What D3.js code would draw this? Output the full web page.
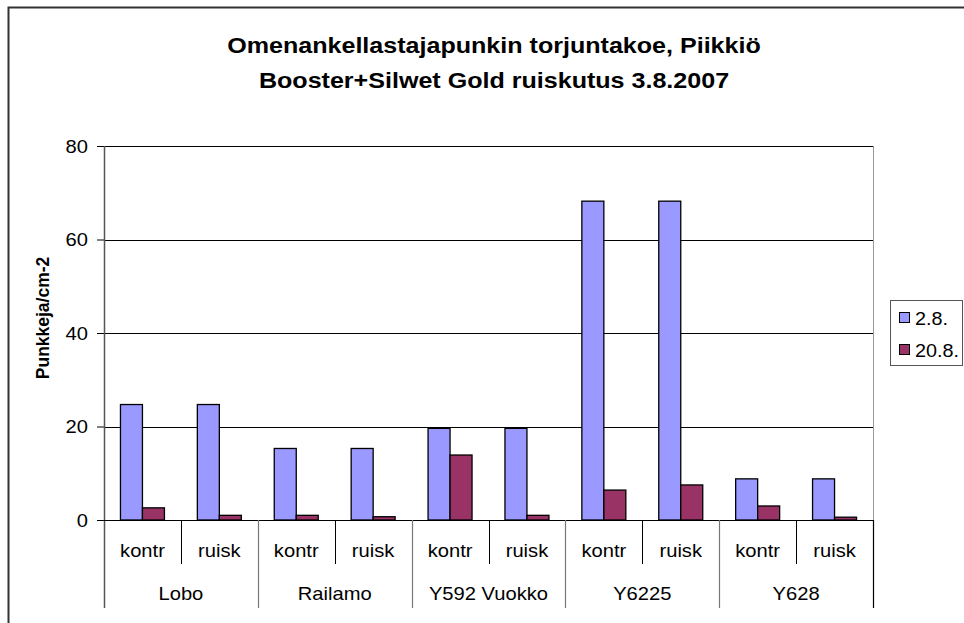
<!DOCTYPE html>
<html>
<head>
<meta charset="utf-8">
<script src="https://cdn.jsdelivr.net/npm/d3@7"></script>
<style>
  html, body { margin: 0; padding: 0; background: #fff; }
  svg text { font-family: "Liberation Sans", Arial, sans-serif; fill: #000; }
</style>
</head>
<body>
<svg id="chart" width="964" height="623"></svg>
<script>
// ---- data ----
const groups = ["Lobo", "Railamo", "Y592 Vuokko", "Y6225", "Y628"];
const treatments = ["kontr", "ruisk"];
const seriesNames = ["2.8.", "20.8."];
const values_2_8  = [24.7, 24.7, 15.3, 15.3, 19.6, 19.6, 68.2, 68.2, 8.8, 8.8];
const values_20_8 = [2.6, 1.0, 1.0, 0.7, 13.9, 1.0, 6.4, 7.5, 3.0, 0.6];
const yTicks = [0, 20, 40, 60, 80];
const titleLines = ["Omenankellastajapunkin torjuntakoe, Piikkiö", "Booster+Silwet Gold ruiskutus 3.8.2007"];
const yTitle = "Punkkeja/cm-2";
const colors = ["#9999FF", "#993366"];

// ---- build rows ----
const rows = [];
groups.forEach((g, gi) => treatments.forEach((t, ti) => {
  const i = gi * treatments.length + ti;
  rows.push({ key: g + "|" + t, group: g, treat: t, vals: [values_2_8[i], values_20_8[i]] });
}));

const svg = d3.select("#chart");
const m = { left: 104, right: 873, top: 146, bottom: 520 };

function stretchedText(parent, x, y, str, opts) {
  const sx = opts.sx || 1.12;
  return parent.append("text")
    .attr("transform", `translate(${x},${y}) scale(${sx},1)`)
    .attr("text-anchor", opts.anchor || "middle")
    .style("font-size", (opts.size || 18) + "px")
    .style("font-weight", opts.weight || "normal")
    .text(str);
}

// outer border
svg.append("rect").attr("x", 8.5).attr("y", 7.5).attr("width", 1000).attr("height", 700)
  .attr("fill", "none").attr("stroke", "#333").attr("stroke-width", 2);

// scales
const x = d3.scaleBand().domain(rows.map(d => d.key)).range([m.left, m.right])
  .paddingInner(0.428).paddingOuter(0.214);
const xs = d3.scaleBand().domain([0, 1]).range([0, x.bandwidth()]);
const y = d3.scaleLinear().domain([0, 80]).range([m.bottom, m.top]);
const step = x.step();
const x0 = m.left;

// gridlines
svg.append("g").selectAll("line").data(yTicks.filter(v => v > 0)).join("line")
  .attr("x1", m.left).attr("x2", m.right)
  .attr("y1", d => Math.round(y(d)) + 0.5).attr("y2", d => Math.round(y(d)) + 0.5)
  .attr("stroke", "#000").attr("stroke-width", 1);

// plot area right border
svg.append("line").attr("x1", m.right + 0.5).attr("x2", m.right + 0.5)
  .attr("y1", m.top).attr("y2", m.bottom).attr("stroke", "#999").attr("stroke-width", 1);

// bars
const barG = svg.append("g").selectAll("g").data(rows).join("g")
  .attr("transform", d => `translate(${x(d.key)},0)`);
barG.selectAll("rect").data(d => d.vals.map((v, i) => ({ v, i }))).join("rect")
  .attr("x", d => xs(d.i))
  .attr("y", d => y(d.v))
  .attr("width", xs.bandwidth())
  .attr("height", d => y(0) - y(d.v))
  .attr("fill", d => colors[d.i])
  .attr("stroke", "#000").attr("stroke-width", 1.3);

// y axis ticks
const yAxis = d3.axisLeft(y).tickValues(yTicks).tickSize(7).tickPadding(8);
const ya = svg.append("g").attr("transform", `translate(${m.left},0)`).call(yAxis);
ya.select(".domain").remove();
ya.selectAll(".tick line").attr("stroke", "#000");
ya.selectAll(".tick text").remove();
yTicks.forEach(v => {
  stretchedText(svg, m.left - 16, y(v) + 6.5, String(v), { anchor: "end" });
});
// y axis line (extends down through category axis)
svg.append("line").attr("x1", m.left + 0.5).attr("x2", m.left + 0.5)
  .attr("y1", m.top).attr("y2", 608).attr("stroke", "#555").attr("stroke-width", 1.5);

// x axis baseline
svg.append("line").attr("x1", m.left).attr("x2", m.right)
  .attr("y1", Math.round(y(0)) + 0.5).attr("y2", Math.round(y(0)) + 0.5)
  .attr("stroke", "#000").attr("stroke-width", 1);

// subcategory separators and labels
rows.forEach((d, i) => {
  const cx = x0 + step * (i + 0.5);
  stretchedText(svg, cx, 557, d.treat, {});
  if (i % 2 === 1) {
    const sx = Math.round(x0 + step * i) + 0.5;
    svg.append("line").attr("x1", sx).attr("x2", sx).attr("y1", y(0)).attr("y2", 564)
      .attr("stroke", "#000").attr("stroke-width", 1);
  }
});
// group separators and labels
groups.forEach((g, gi) => {
  const cx = x0 + step * (gi * 2 + 1);
  stretchedText(svg, cx, 600, g, {});
  const sx = Math.round(x0 + step * (gi * 2 + 2)) + 0.5;
  svg.append("line").attr("x1", sx).attr("x2", sx).attr("y1", y(0)).attr("y2", 608)
    .attr("stroke", gi === groups.length - 1 ? "#000" : "#777").attr("stroke-width", 1.2);
});

// title
stretchedText(svg, 494, 53, titleLines[0], { size: 22, weight: "bold", sx: 1.14 });
stretchedText(svg, 494, 88, titleLines[1], { size: 22, weight: "bold", sx: 1.14 });

// y title
svg.append("text")
  .attr("transform", `translate(49,318) rotate(-90) scale(1,1.1)`)
  .attr("text-anchor", "middle")
  .style("font-size", "17.5px").style("font-weight", "bold")
  .text(yTitle);

// legend
const lg = svg.append("g");
lg.append("rect").attr("x", 890.5).attr("y", 300.5).attr("width", 72).attr("height", 65)
  .attr("fill", "#fff").attr("stroke", "#555").attr("stroke-width", 1);
seriesNames.forEach((s, i) => {
  const cy = 318 + i * 32;
  lg.append("rect").attr("x", 899.5).attr("y", cy - 5.5).attr("width", 10).attr("height", 10)
    .attr("fill", colors[i]).attr("stroke", "#000").attr("stroke-width", 1);
  stretchedText(lg, 915, cy + 6.5, s, { anchor: "start", sx: 1.1 });
});
</script>
</body>
</html>
